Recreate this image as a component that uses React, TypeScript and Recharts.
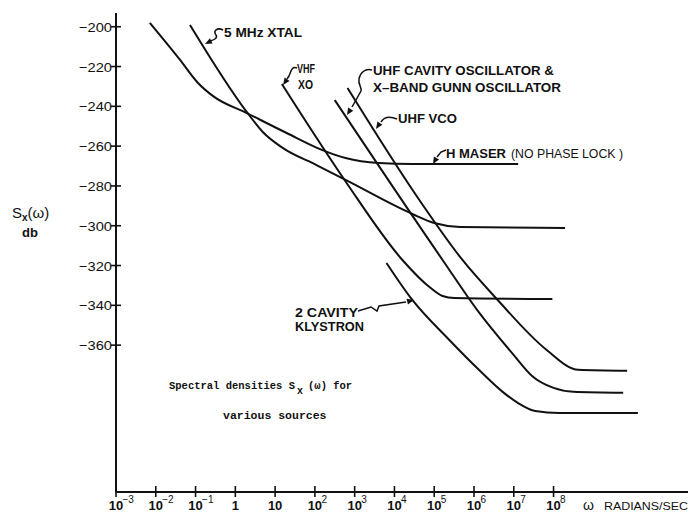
import React from 'react';
import { LineChart, Line, XAxis, YAxis } from 'recharts';

const CHART_W = 692;
const CHART_H = 517;

// x values: log10(ω) (ω in radians/sec); y values: Sx(ω) in db
const xDecades = [-3, -2, -1, 0, 1, 2, 3, 4, 5, 6, 7, 8];
const yTicks = [-200, -220, -240, -260, -280, -300, -320, -340, -360];
const X_DOMAIN: [number, number] = [-3, 11.38];
const Y_DOMAIN: [number, number] = [-433.8, -193.1];

const hMaserLogW = [-2.15, -1.39, -0.95, -0.55, 0.29, 1.29, 2.19, 2.77, 3.6, 4.45, 7.11];
const hMaserDb = [-198.1, -216.7, -228.0, -235.0, -243.4, -253.4, -262, -266, -268.5, -269, -269];

const xtalLogW = [-1.14, 0.29, 0.69, 1.19, 2.04, 2.87, 4.45, 5.0, 5.65, 8.29];
const xtalDb = [-199.1, -242.9, -252.9, -260.9, -269.5, -278, -294.1, -298.6, -300.6, -301.1];

const vhfXoLogW = [1.17, 2.78, 4.2, 4.88, 5.21, 5.51, 7.97];
const vhfXoDb = [-228.8, -278, -317.2, -330.8, -335.3, -336.3, -336.8];

const uhfCavityLogW = [2.5, 5.21, 6.13, 7.0, 7.46, 8.0, 8.5, 9.75];
const uhfCavityDb = [-236.9, -317.2, -343.7, -365, -375.5, -381.5, -383.4, -383.9];

const uhfVcoLogW = [2.82, 4.63, 5.71, 6.59, 7.82, 8.62, 9.85];
const uhfVcoDb = [-230.8, -287.2, -317.2, -337.2, -362.3, -372.4, -372.9];

const klystronLogW = [3.8, 4.45, 5.38, 6.13, 6.76, 7.11, 7.54, 8.14, 10.12];
const klystronDb = [-318.7, -337.3, -357.4, -372.5, -384.1, -389.1, -393.1, -394.1, -394.1];

const zip = (xs: number[], ys: number[]) => xs.map((w, i) => ({ w, db: ys[i] }));

const series = [
  { key: 'hmaser', data: zip(hMaserLogW, hMaserDb) },
  { key: 'xtal', data: zip(xtalLogW, xtalDb) },
  { key: 'vhfxo', data: zip(vhfXoLogW, vhfXoDb) },
  { key: 'uhfcav', data: zip(uhfCavityLogW, uhfCavityDb) },
  { key: 'uhfvco', data: zip(uhfVcoLogW, uhfVcoDb) },
  { key: 'klystron', data: zip(klystronLogW, klystronDb) },
];

const INK = '#111';
const SANS = '"Liberation Sans", Arial, sans-serif';
const MONO = '"Liberation Mono", "DejaVu Sans Mono", monospace';

function XTick(props: any) {
  const { x, y, payload } = props;
  const n = payload.value as number;
  const base = { fontSize: 13, fontFamily: SANS, fill: INK, fontWeight: 'bold' as const };
  let label: React.ReactNode;
  if (n === 0) {
    label = <text x={x} y={y + 18} textAnchor="middle" {...base}>1</text>;
  } else if (n === 1) {
    label = <text x={x} y={y + 18} textAnchor="middle" {...base}>10</text>;
  } else {
    label = (
      <g>
        <text x={x} y={y + 18} textAnchor="middle" {...base}>10</text>
        <text x={x + 6.5} y={y + 11} textAnchor="start" fontSize={10} fontFamily={SANS} fill={INK}>
          {n < 0 ? '\u2212' + Math.abs(n) : String(n)}
        </text>
      </g>
    );
  }
  return (
    <g>
      <line x1={x} x2={x} y1={y - 6} y2={y + 5} stroke={INK} strokeWidth={1.6} />
      {label}
    </g>
  );
}

function YTick(props: any) {
  const { x, y, payload } = props;
  const v = payload.value as number;
  return (
    <g>
      <line x1={x - 5} x2={x + 5} y1={y} y2={y} stroke={INK} strokeWidth={1.6} />
      <text x={x - 4} y={y + 5} textAnchor="end" fontSize={13.5} fontFamily={SANS} fill={INK}
        textLength={33} lengthAdjust="spacingAndGlyphs">
        {'\u2212' + Math.abs(v)}
      </text>
    </g>
  );
}

function arrowHead(tx: number, ty: number, fx: number, fy: number, len = 7, half = 3) {
  const dx = tx - fx, dy = ty - fy;
  const d = Math.hypot(dx, dy);
  const ux = dx / d, uy = dy / d;
  const bx = tx - ux * len, by = ty - uy * len;
  return `${tx},${ty} ${bx - uy * half},${by + ux * half} ${bx + uy * half},${by - ux * half}`;
}

function Pointer({ d, tip, from }: { d: string; tip: [number, number]; from: [number, number] }) {
  return (
    <g>
      <path d={d} fill="none" stroke={INK} strokeWidth={1.5} />
      <polygon points={arrowHead(tip[0], tip[1], from[0], from[1])} fill={INK} />
    </g>
  );
}

function Annotations() {
  const lab = { fontFamily: SANS, fontSize: 13, fill: INK, fontWeight: 'bold' as const, lengthAdjust: 'spacingAndGlyphs' as const };
  const cap = { fontFamily: MONO, fontSize: 10.5, fontWeight: 'bold' as const, fill: INK };
  return (
    <svg width={CHART_W} height={CHART_H} style={{ position: 'absolute', left: 0, top: 0, pointerEvents: 'none' }}>
      {/* 5 MHz XTAL */}
      <text x={224} y={37} {...lab} textLength={78}>5 MHz  XTAL</text>
      <Pointer d="M223,30 C217,27 213,31 216,35 C218,38 214,40 210,41" tip={[205, 44]} from={[211, 41]} />
      {/* VHF XO */}
      <text x={297} y={73} {...lab} textLength={18}>VHF</text>
      <text x={298} y={89} {...lab} textLength={15}>XO</text>
      <Pointer d="M297,68 C291,66 291,72 289,76 L287,79" tip={[283, 85]} from={[288, 78]} />
      {/* UHF cavity & gunn */}
      <text x={373} y={75} {...lab} textLength={181}>UHF CAVITY  OSCILLATOR  &amp;</text>
      <text x={373} y={92} {...lab} textLength={188}>X{'\u2013'}BAND  GUNN  OSCILLATOR</text>
      <Pointer d="M372,70 C365,68 360,73 359,79 C358,85 362,87 361,91 L352,107" tip={[347, 115]} from={[352, 107]} />
      {/* UHF VCO */}
      <text x={398} y={123} {...lab} textLength={59}>UHF  VCO</text>
      <Pointer d="M397,119 C390,116 384,117 381,122" tip={[376, 129]} from={[380, 123]} />
      {/* H MASER */}
      <text x={446} y={158} {...lab} textLength={60}>H MASER</text>
      <text x={511} y={158} {...lab} fontWeight="normal" textLength={112}>(NO PHASE  LOCK )</text>
      <Pointer d="M446,150 L441,152 L437,157" tip={[433, 164]} from={[437, 157]} />
      {/* Klystron */}
      <text x={295} y={317} {...lab} textLength={63}>2 CAVITY</text>
      <text x={295} y={331} {...lab} textLength={69}>KLYSTRON</text>
      <Pointer d="M358,311 L371,307 L377,311 L379,306 L406,302" tip={[414, 300]} from={[406, 302]} />
      {/* Y axis label */}
      <text x={12} y={218} fontFamily={SANS} fontSize={15} fill={INK}>
        S<tspan dy={3} fontSize={10} fontWeight="bold">x</tspan><tspan dy={-3}>({'\u03c9'})</tspan>
      </text>
      <text x={22} y={237} fontFamily={SANS} fontSize={13} fontWeight="bold" fill={INK}>db</text>
      {/* X axis label */}
      <text x={583} y={510} fontFamily={SANS} fontSize={14} fill={INK}>{'\u03c9'}</text>
      <text x={604} y={510} fontFamily={SANS} fontSize={11} fill={INK} textLength={84} lengthAdjust="spacingAndGlyphs">RADIANS/SEC</text>
      {/* Caption */}
      <text x={169} y={389} {...cap}>Spectral densities S</text>
      <text x={297} y={394} {...cap} fontSize={10}>x</text>
      <text x={308} y={389} {...cap}>({'\u03c9'}) for</text>
      <text x={223} y={419} {...cap} fontSize={11.5}>various sources</text>
    </svg>
  );
}

export default function App() {
  return (
    <div style={{ position: 'absolute', left: 0, top: 0, width: CHART_W, height: CHART_H, background: '#fff' }}>
      <LineChart width={CHART_W} height={CHART_H} margin={{ top: 13, right: 4, bottom: 0, left: 56 }}>
        <XAxis
          type="number"
          dataKey="w"
          domain={X_DOMAIN}
          allowDataOverflow
          ticks={xDecades}
          interval={0}
          tick={<XTick />}
          tickLine={false}
          tickSize={0}
          tickMargin={0}
          height={25}
          axisLine={{ stroke: INK, strokeWidth: 2 }}
        />
        <YAxis
          type="number"
          dataKey="db"
          domain={Y_DOMAIN}
          allowDataOverflow
          ticks={yTicks}
          interval={0}
          tick={<YTick />}
          tickLine={false}
          tickSize={0}
          tickMargin={0}
          width={60}
          axisLine={{ stroke: INK, strokeWidth: 2 }}
        />
        {series.map((s) => (
          <Line
            key={s.key}
            data={s.data}
            dataKey="db"
            type="monotone"
            stroke={INK}
            strokeWidth={2}
            dot={false}
            activeDot={false}
            isAnimationActive={false}
          />
        ))}
      </LineChart>
      <Annotations />
    </div>
  );
}
